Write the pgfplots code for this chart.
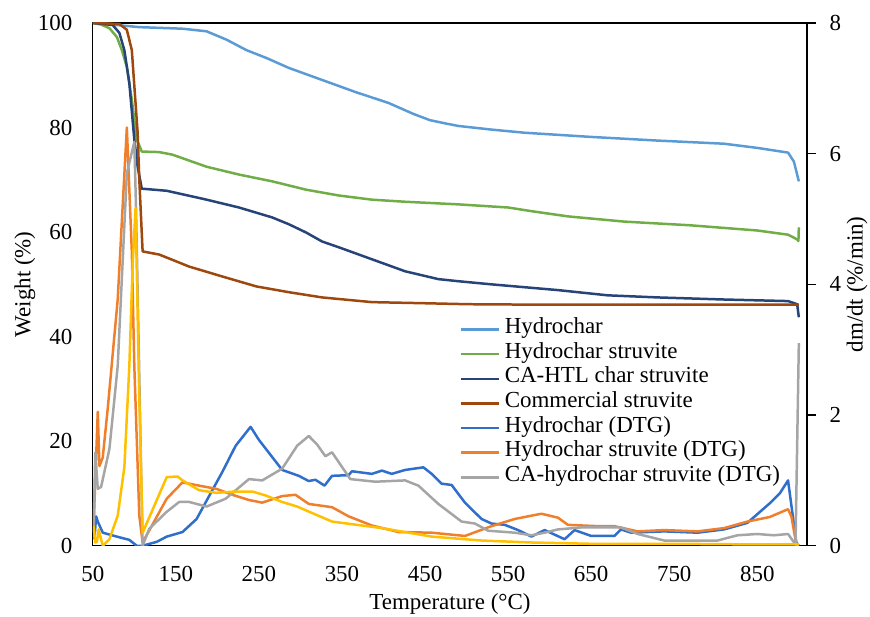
\documentclass[border=0pt]{standalone}
\usepackage{pgfplots}
\pgfplotsset{compat=1.18}
\usepackage{fontspec}
\setmainfont{Liberation Serif}
\definecolor{cHyd}{HTML}{5B9BD5}
\definecolor{cHydS}{HTML}{70AD47}
\definecolor{cCA}{HTML}{264478}
\definecolor{cCom}{HTML}{9E480E}
\definecolor{cHydD}{HTML}{2F6ECB}
\definecolor{cHydSD}{HTML}{F07F2B}
\definecolor{cCAD}{HTML}{A5A5A5}
\definecolor{cComD}{HTML}{FFC000}
\begin{document}
\fontsize{11.5}{13.8}\selectfont
\begin{tikzpicture}
\pgfplotsset{
  common/.style={scale only axis, width=358pt, height=262pt, xmin=50, xmax=910,
    /pgf/number format/assume math mode=true,
    every axis plot/.append style={line width=1.25pt, line join=round}},
}
\begin{axis}[common, name=main, ymin=0, ymax=100,
  xtick={50,150,...,850}, ytick={0,20,...,100},
  major tick style={draw=none},
  axis line style={line width=0.7pt},
  xticklabel style={yshift=-6.4pt}, yticklabel style={xshift=-6.2pt},
  xlabel={Temperature (°C)}, ylabel={Weight (\%)},
  xlabel style={at={(axis description cs:0.5,-0.1107)}, anchor=center},
  ylabel style={at={(axis description cs:-0.095,0.5)}, anchor=center}]
% Hydrochar
\addplot[cHyd] coordinates {(50,100) (65,99.9) (79,99.6) (106,99.2) (158,98.9) (187,98.4) (211,96.8) (235,94.8) (259,93.3) (286,91.4) (326,89.1) (366,86.8) (406,84.7) (436,82.6) (456,81.4) (474,80.8) (490,80.3) (530,79.6) (570,79.0) (650,78.2) (730,77.5) (810,76.9) (850,76.1) (887,75.2) (894,73.5) (900,69.7)};
% Hydrochar struvite
\addplot[cHydS] coordinates {(50,100) (60,99.7) (70,99) (79,97.3) (85,94.8) (91,91.6) (97,85.3) (103,77.7) (109,75.4) (130,75.3) (146,74.8) (187,72.5) (226,71) (266,69.7) (307,68.1) (346,67) (386,66.2) (426,65.8) (490,65.3) (550,64.7) (578,64) (622,63) (690,62) (769,61.3) (850,60.3) (887,59.5) (898,58.6) (899.5,58.3) (900,60.9)};
% CA-HTL char struvite
\addplot[cCA] coordinates {(50,100) (74,99.6) (82,98.1) (88,94.8) (94,88.5) (100,77.7) (104,72.5) (109,68.3) (139,67.9) (187,66.2) (226,64.7) (266,62.8) (286,61.5) (307,59.9) (326,58.2) (346,57.1) (386,54.8) (426,52.5) (466,51) (490,50.6) (530,50) (610,48.9) (670,47.9) (730,47.5) (810,47.1) (887,46.8) (898,46.2) (900,43.7)};
% Commercial struvite
\addplot[cCom] coordinates {(50,100) (82,99.8) (91,98.7) (97,94.8) (100,88) (104,79) (106,70) (110,56.3) (130,55.7) (166,53.4) (206,51.5) (247,49.6) (286,48.5) (326,47.5) (386,46.6) (446,46.4) (502,46.2) (600,46.1) (900,46.1)};
\end{axis}
\begin{axis}[common, ymin=0, ymax=8, ytick={0,2,...,8},
  axis y line*=right, axis x line=none,
  tick align=outside, major tick length=4.5pt,
  ytick style={line width=0.7pt, black},
  axis line style={line width=0.7pt},
  yticklabel style={xshift=2.7pt},
  ylabel={dm/dt (\%/min)},
  ylabel style={at={(axis description cs:1.0698,0.5)}, anchor=center},
  legend cell align=left,
  legend image code/.code={\draw[#1] (0pt,0pt) -- (19pt,0pt);},
  legend style={at={(axis description cs:0.5126,0.438)}, anchor=north west,
    draw=none, fill=none, inner sep=0pt,
    nodes={inner sep=0pt, text height=8.2pt, text depth=4.15pt},
    /tikz/every odd column/.append style={column sep=2.5pt}}]
\addlegendimage{cHyd, line width=1.25pt}
\addlegendentry{Hydrochar}
\addlegendimage{cHydS, line width=1.25pt}
\addlegendentry{Hydrochar struvite}
\addlegendimage{cCA, line width=1.25pt}
\addlegendentry{CA-HTL char struvite}
\addlegendimage{cCom, line width=1.25pt}
\addlegendentry{Commercial struvite}
% Hydrochar (DTG)
\addplot[cHydD] coordinates {(52,0.1) (54,0.45) (56,0.37) (62,0.2) (79,0.14) (94,0.09) (103,0.0) (110,0.0) (127,0.06) (139,0.14) (158,0.21) (175,0.41) (190,0.76) (206,1.13) (222,1.53) (240,1.82) (250,1.62) (278,1.16) (298,1.07) (310,0.99) (318,1.01) (329,0.92) (338,1.07) (358,1.08) (362,1.14) (386,1.10) (398,1.15) (410,1.10) (426,1.16) (448,1.20) (458,1.10) (470,0.95) (482,0.93) (498,0.66) (518,0.41) (530,0.34) (546,0.32) (562,0.24) (578,0.14) (594,0.24) (618,0.10) (630,0.24) (650,0.15) (678,0.15) (686,0.25) (698,0.20) (738,0.22) (778,0.20) (810,0.25) (838,0.35) (865,0.65) (877,0.80) (887,1.00) (897,0.05) (900,0.0)};
\addlegendentry{Hydrochar (DTG)}
% Hydrochar struvite (DTG)
\addplot[cHydSD] coordinates {(51,0.3) (53,1.0) (56,2.05) (58,1.22) (62,1.35) (68,2.1) (80,3.77) (91,6.4) (97,4.5) (100,2.75) (106,0.46) (110,0.05) (139,0.72) (158,0.97) (178,0.92) (199,0.87) (218,0.78) (238,0.70) (254,0.66) (278,0.76) (294,0.78) (310,0.64) (338,0.59) (358,0.45) (386,0.31) (418,0.21) (458,0.20) (498,0.15) (530,0.30) (558,0.41) (590,0.49) (610,0.43) (622,0.32) (658,0.30) (678,0.30) (706,0.22) (738,0.24) (778,0.22) (810,0.27) (838,0.37) (865,0.44) (887,0.56) (891,0.45) (897,0.02) (900,0.0)};
\addlegendentry{Hydrochar struvite (DTG)}
% CA-hydrochar struvite (DTG)
\addplot[cCAD] coordinates {(51,0.2) (53,1.43) (56,0.87) (60,0.9) (70,1.48) (80,2.75) (91,5.7) (100,6.18) (102,5.2) (110,0.0) (118,0.26) (139,0.52) (154,0.67) (166,0.67) (187,0.60) (210,0.72) (238,1.02) (254,1.00) (278,1.18) (296,1.53) (310,1.68) (320,1.55) (330,1.37) (338,1.43) (360,1.02) (390,0.98) (426,1.00) (442,0.92) (466,0.64) (494,0.37) (510,0.34) (526,0.23) (558,0.20) (578,0.16) (594,0.20) (610,0.25) (638,0.28) (666,0.28) (686,0.28) (706,0.18) (738,0.08) (778,0.08) (802,0.08) (826,0.16) (850,0.18) (870,0.16) (887,0.18) (896,0.02) (900,3.1)};
\addlegendentry{CA-hydrochar struvite (DTG)}
% Commercial struvite (DTG) - not in legend
\addplot[cComD, forget plot] coordinates {(51,0.3) (53,0.05) (55,0.06) (57,0.25) (62,0.0) (70,0.1) (80,0.46) (88,1.2) (94,2.75) (98,4.3) (101.5,5.17) (106,2.25) (110,0.2) (139,1.05) (152,1.06) (158,1.0) (178,0.85) (199,0.81) (222,0.83) (242,0.83) (258,0.77) (278,0.67) (296,0.60) (338,0.37) (398,0.27) (458,0.14) (518,0.08) (578,0.05) (650,0.03) (750,0.03) (850,0.02) (900,0.02)};
\end{axis}
\pgfresetboundingbox
\path ([xshift=-46.5pt,yshift=-35.5pt]main.south west) rectangle ([xshift=31.5pt,yshift=11.5pt]main.north east);
\end{tikzpicture}
\end{document}
